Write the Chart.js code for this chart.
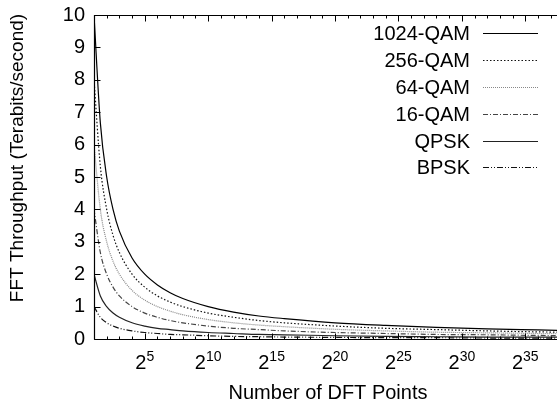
<!DOCTYPE html>
<html><head><meta charset="utf-8">
<script src="https://cdn.jsdelivr.net/npm/chart.js@4"></script>
<style>html,body{margin:0;padding:0;background:#fff}canvas{display:block}</style>
</head><body>
<canvas id="c" width="557" height="403"></canvas>
<script>
// x values are log2 of the number of DFT points
const log2Points = [1, 1.5, 2, 2.5, 3, 4, 5, 6, 7, 8, 10, 12, 14, 16, 20, 24, 28, 32, 36, 40];
const seriesNames = ['1024-QAM', '256-QAM', '64-QAM', '16-QAM', 'QPSK', 'BPSK'];
const qam1024 = [10, 6.67, 5, 4, 3.33, 2.5, 2, 1.67, 1.43, 1.25, 1, 0.83, 0.71, 0.63, 0.5, 0.42, 0.36, 0.31, 0.28, 0.25];
const qam256  = [8, 5.33, 4, 3.2, 2.67, 2, 1.6, 1.33, 1.14, 1, 0.8, 0.67, 0.57, 0.5, 0.4, 0.33, 0.29, 0.25, 0.22, 0.2];
const qam64   = [6, 4, 3, 2.4, 2, 1.5, 1.2, 1, 0.86, 0.75, 0.6, 0.5, 0.43, 0.38, 0.3, 0.25, 0.21, 0.19, 0.17, 0.15];
const qam16   = [4, 2.67, 2, 1.6, 1.33, 1, 0.8, 0.67, 0.57, 0.5, 0.4, 0.33, 0.29, 0.25, 0.2, 0.17, 0.14, 0.13, 0.11, 0.1];
const qpsk    = [2, 1.33, 1, 0.8, 0.67, 0.5, 0.4, 0.33, 0.29, 0.25, 0.2, 0.17, 0.14, 0.13, 0.1, 0.08, 0.07, 0.06, 0.06, 0.05];
const bpsk    = [1, 0.67, 0.5, 0.4, 0.33, 0.25, 0.2, 0.17, 0.14, 0.13, 0.1, 0.08, 0.07, 0.06, 0.05, 0.04, 0.04, 0.03, 0.03, 0.03];
const xTickExponents = [5, 10, 15, 20, 25, 30, 35];
const yTickValues = [0, 1, 2, 3, 4, 5, 6, 7, 8, 9, 10];
const xTitle = 'Number of DFT Points';
const yTitle = 'FFT Throughput (Terabits/second)';

const FONT = 'Liberation Sans, Arial, Helvetica, sans-serif';
const FS = 20;
const allSeries = [qam1024, qam256, qam64, qam16, qpsk, bpsk];
const styles = [
  {color: '#000', dash: []},
  {color: '#111', dash: [1.5, 2]},
  {color: '#888', dash: [1, 1]},
  {color: '#444', dash: [5, 2, 1, 2]},
  {color: '#222', dash: []},
  {color: '#111', dash: [6, 2, 1, 2, 1, 2]}
];

const datasets = allSeries.map((vals, i) => ({
  label: seriesNames[i],
  data: log2Points.map((x, j) => ({x: x, y: vals[j]})),
  borderColor: styles[i].color,
  borderDash: styles[i].dash,
  borderWidth: 1.2,
  pointRadius: 0,
  fill: false,
  cubicInterpolationMode: 'monotone'
}));

const decor = {
  id: 'decor',
  afterDatasetsDraw(chart) {
    const ctx = chart.ctx, a = chart.chartArea;
    const xs = chart.scales.x, ys = chart.scales.y;
    ctx.save();
    ctx.strokeStyle = '#000';
    ctx.lineWidth = 1.2;
    ctx.setLineDash([]);
    const L = Math.round(a.left) + 0.5, T = Math.round(a.top) + 0.5, B = Math.round(a.bottom) + 0.5;
    ctx.beginPath();
    ctx.moveTo(L, B); ctx.lineTo(L, T); ctx.lineTo(chart.width + 2, T);
    ctx.moveTo(L, B); ctx.lineTo(chart.width + 2, B);
    ctx.stroke();
    ctx.lineWidth = 1;
    // y ticks (inward)
    ctx.beginPath();
    yTickValues.forEach(v => {
      const y = Math.round(ys.getPixelForValue(v)) + 0.5;
      ctx.moveTo(L, y); ctx.lineTo(L + 6, y);
    });
    // x ticks (inward), minor every unit, major every 5
    for (let v = Math.ceil(xs.min); v <= xs.max; v++) {
      const x = Math.round(xs.getPixelForValue(v)) + 0.5;
      const len = (v % 5 === 0) ? 6 : 3;
      ctx.moveTo(x, B); ctx.lineTo(x, B - len);
      ctx.moveTo(x, T); ctx.lineTo(x, T + len);
    }
    ctx.stroke();
    // x tick labels 2^n
    ctx.fillStyle = '#000';
    xTickExponents.forEach(e => {
      const x = xs.getPixelForValue(e);
      ctx.font = FS + 'px ' + FONT;
      const wb = ctx.measureText('2').width;
      ctx.font = Math.round(FS * 0.7) + 'px ' + FONT;
      const we = ctx.measureText(String(e)).width;
      const start = x - (wb + we) / 2;
      ctx.textAlign = 'left';
      ctx.textBaseline = 'alphabetic';
      ctx.font = FS + 'px ' + FONT;
      ctx.fillText('2', start, 369);
      ctx.font = Math.round(FS * 0.7) + 'px ' + FONT;
      ctx.fillText(String(e), start + wb, 361);
    });
    // axis titles
    ctx.font = FS + 'px ' + FONT;
    ctx.textAlign = 'center';
    ctx.textBaseline = 'alphabetic';
    ctx.fillText(xTitle, 328, 399);
    ctx.save();
    ctx.font = '19px ' + FONT;
    ctx.translate(23, 158);
    ctx.rotate(-Math.PI / 2);
    ctx.fillText(yTitle, 0, 0);
    ctx.restore();
    // legend
    const rowsY = [33, 60, 87, 114, 141, 167];
    seriesNames.forEach((n, i) => {
      const y = rowsY[i];
      ctx.font = FS + 'px ' + FONT;
      ctx.textAlign = 'right';
      ctx.textBaseline = 'middle';
      ctx.fillStyle = '#000';
      ctx.fillText(n, 470, y + 1);
      ctx.strokeStyle = styles[i].color;
      ctx.lineWidth = 1.2;
      ctx.setLineDash(styles[i].dash);
      ctx.beginPath();
      ctx.moveTo(483, y + 0.5); ctx.lineTo(538, y + 0.5);
      ctx.stroke();
    });
    ctx.restore();
  }
};

new Chart(document.getElementById('c'), {
  type: 'line',
  data: {datasets: datasets},
  options: {
    responsive: false,
    animation: false,
    devicePixelRatio: 1,
    layout: {padding: {top: 15, right: 0, left: 0, bottom: 0}},
    plugins: {legend: {display: false}, tooltip: {enabled: false}},
    scales: {
      x: {
        type: 'linear', min: 1, max: 37.5,
        grid: {display: false, drawTicks: false},
        border: {display: false},
        ticks: {display: false},
        afterFit(s) { s.height = 64; s.paddingLeft = 0; s.paddingRight = 0; }
      },
      y: {
        type: 'linear', min: 0, max: 10,
        grid: {display: false, drawTicks: false},
        border: {display: false},
        ticks: {stepSize: 1, color: '#000', padding: 9, font: {family: FONT, size: FS}},
        afterFit(s) { s.width = 94; s.paddingTop = 0; s.paddingBottom = 0; }
      }
    }
  },
  plugins: [decor]
});
</script>
</body></html>
